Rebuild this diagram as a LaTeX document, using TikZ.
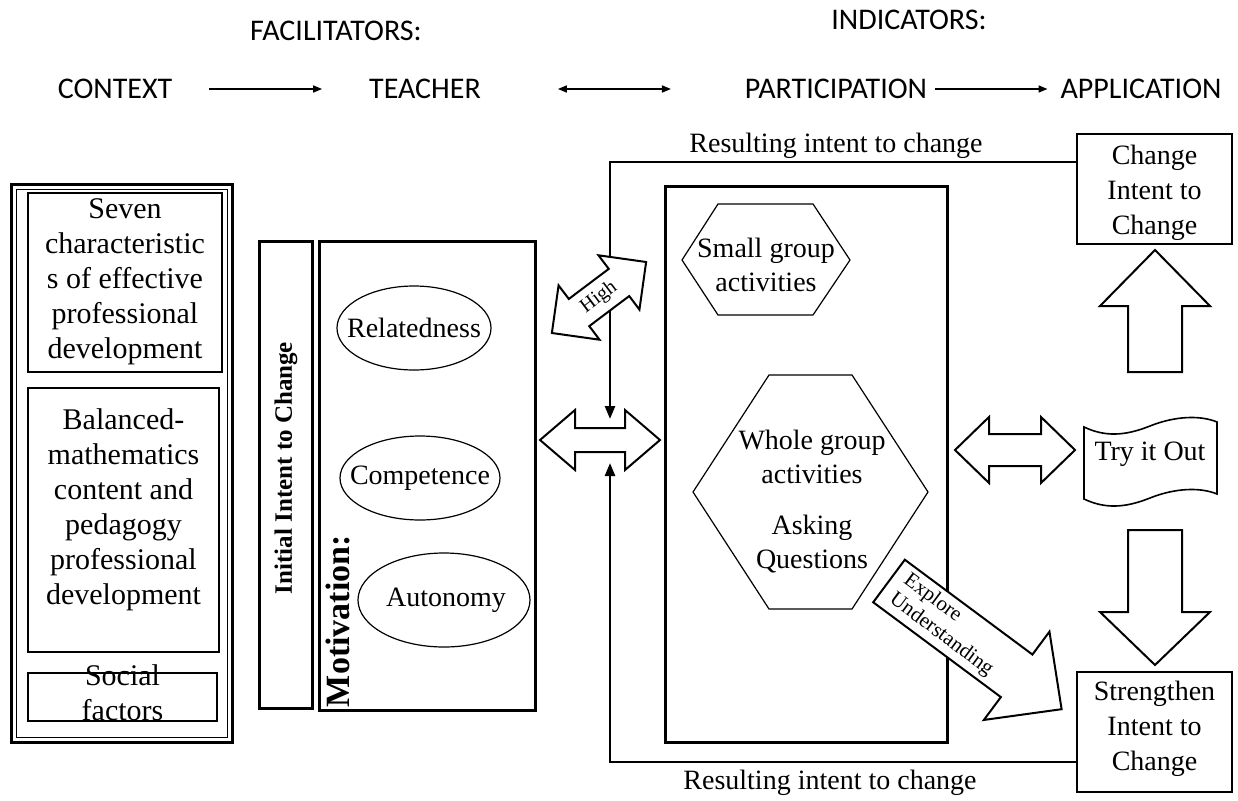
\documentclass[tikz,border=0pt]{standalone}
\usepackage{fontspec}
\setmainfont{Liberation Serif}
\newfontfamily\capsfont{Carlito}
\usetikzlibrary{arrows.meta,shapes.geometric,calc}

\begin{document}
\begin{tikzpicture}[x=1pt,y=-1pt,
  every node/.style={inner sep=0pt,outer sep=0pt},
  body/.style={font=\fontsize{28}{34}\selectfont,align=center},
  apptext/.style={font=\fontsize{28}{35}\selectfont,align=center},
  sidetext/.style={font=\fontsize{30}{35}\selectfont,align=center},
  stage/.style={font=\capsfont\fontsize{30}{36}\selectfont},
  frame/.style={draw,line width=3pt},
  thinframe/.style={draw,line width=1.3pt},
  outline/.style={draw,line width=1.2pt},
  blockarrow/.style={draw,fill=white,line width=2pt,line join=miter},
  feedback/.style={line width=2.5pt,line join=miter,-{Triangle[length=13pt,width=10pt]}},
  flow/.style={line width=1.5pt,-{Triangle[length=9pt,width=7pt]}},
  twoway/.style={line width=1.5pt,{Triangle[length=9pt,width=7pt]}-{Triangle[length=9pt,width=7pt]}},
]
\useasboundingbox (0,0) rectangle (1238,800);
\fill[white] (0,0) rectangle (1238,800);

% stage headings
\node[stage] (fac) at (336,31) {FACILITATORS:};
\node[stage] (ind) at (909,20) {INDICATORS:};
\node[stage] (ctx) at (115,89) {CONTEXT};
\node[stage] (tea) at (425,89) {TEACHER};
\node[stage] (par) at (836,89) {PARTICIPATION};
\node[stage] (app) at (1141,89) {APPLICATION};
\draw[flow,shorten <=37pt,shorten >=47pt] (ctx.east) -- (tea.west);
\draw[twoway,shorten <=77pt,shorten >=74pt] (tea.east) -- (par.west);
\draw[flow,shorten <=8pt,shorten >=13pt] (par.east) -- (app.west);

% context column
\node[frame,minimum width=221,minimum height=558] (ctxbox) at (121.5,463) {};
\draw[line width=1pt] ($(ctxbox.north west)+(5,5)$) rectangle ($(ctxbox.south east)+(-5,-5)$);
\node[thinframe,minimum width=194,minimum height=179] (pd1) at (125,282.5) {};
\node[sidetext] (pd1t) at (125,282) {Seven\\characteristic\\s of effective\\professional\\development};
\node[thinframe,minimum width=191,minimum height=264] (pd2) at (123.5,520) {};
\node[sidetext] (pd2t) at (123.5,510) {Balanced-\\mathematics\\content and\\pedagogy\\professional\\development};
\node[thinframe,minimum width=189,minimum height=48] (pd3) at (122.5,697) {};
\node[sidetext] (pd3t) at (122.5,693) {Social\\factors};

% teacher column
\node[frame,minimum width=53,minimum height=467] (init) at (285.5,474.5) {};
\node[rotate=90,font=\bfseries\fontsize{25}{30}\selectfont] (initt) at (286,468) {Initial Intent to Change};
\node[frame,minimum width=216,minimum height=469] (mot) at (427,475.5) {};
\node[rotate=90,anchor=west,font=\bfseries\fontsize{34}{40}\selectfont] (mott) at (338,707) {Motivation:};
\node[body] (rel) at (414,328) {Relatedness};
\draw[outline] (rel) ellipse [x radius=77,y radius=42];
\node[body] (com) at (420,478) {Competence};
\draw[outline] (com) ellipse [x radius=80,y radius=42];
\node[body] (aut) at (446,600) {Autonomy};
\draw[outline] (444,600) ellipse [x radius=86,y radius=47];

% participation column
\node[frame,minimum width=282,minimum height=556] (part) at (806,464) {};
\node[body] (small) at (766,265) {Small group\\activities};
\draw[outline] (682,260) -- (718,204) -- (813,204) -- (850,260) -- (813,315) -- (718,315) -- cycle;
\node[body] (whole) at (812,502) {Whole group\\activities\\[17pt]Asking\\Questions};
\draw[outline] (693,492) -- (769,375) -- (852,375) -- (928,492) -- (852,609) -- (769,609) -- cycle;

% application column
\node[thinframe,minimum width=155,minimum height=110] (chg) at (1154.5,189) {};
\node[apptext] (chgt) at (1154.5,193) {Change\\Intent to\\Change};
\node[thinframe,minimum width=155,minimum height=120] (str) at (1154.5,732) {};
\node[apptext] (strt) at (1154.5,729) {Strengthen\\Intent to\\Change};
\draw[outline,line width=1.6pt] (1084,427) .. controls (1105,437) and (1125,436) .. (1150,426)
  .. controls (1175,416) and (1200,415) .. (1217,422) -- (1217,494)
  .. controls (1200,487) and (1175,488) .. (1150,498)
  .. controls (1125,508) and (1105,509) .. (1084,499) -- cycle;
\node[body] (try) at (1150,454) {Try it Out};

% block arrows
\draw[blockarrow] (1155,250) -- (1210,306) -- (1182,306) -- (1182,372) -- (1128,372) -- (1128,306) -- (1100,306) -- cycle;
\draw[blockarrow] (1128,530) -- (1182,530) -- (1182,612) -- (1210,612) -- (1155,665) -- (1100,612) -- (1128,612) -- cycle;
\draw[blockarrow] (540,440) -- (575,410) -- (575,428) -- (625,428) -- (625,410) -- (660,440) -- (625,470) -- (625,452) -- (575,452) -- (575,470) -- cycle;
\draw[blockarrow] (955,450) -- (989,417) -- (989,434) -- (1041,434) -- (1041,417) -- (1075,450) -- (1041,483) -- (1041,466) -- (989,466) -- (989,483) -- cycle;

% feedback loops
\coordinate (topend) at (610,419);
\coordinate (botend) at (610,463);
\draw[feedback] ([yshift=27pt]chg.west) -| (topend);
\draw[feedback] ([yshift=-30pt]str.west) -| (botend);
\node[body] (resTop) at (836,146) {Resulting intent to change};
\node[body] (resBot) at (830,783) {Resulting intent to change};

% diagonal arrows
\begin{scope}[shift={(599,297.5)},rotate=37]
\draw[blockarrow] (59,0) -- (25,-34) -- (25,-17) -- (-25,-17) -- (-25,-34) -- (-59,0) -- (-25,34) -- (-25,17) -- (25,17) -- (25,34) -- cycle;
\node[rotate=37,font=\fontsize{20}{24}\selectfont] (high) at (0,0) {High};
\end{scope}
\begin{scope}[shift={(889,581)},rotate=-36.6]
\draw[blockarrow] (0,-26.5) -- (159,-26.5) -- (159,-55) -- (215,0) -- (159,55) -- (159,26.5) -- (0,26.5) -- cycle;
\node[rotate=-36.6,anchor=west,align=left,font=\fontsize{21}{24}\selectfont] (explore) at (12,0) {Explore\\Understanding};
\end{scope}
\end{tikzpicture}
\end{document}
